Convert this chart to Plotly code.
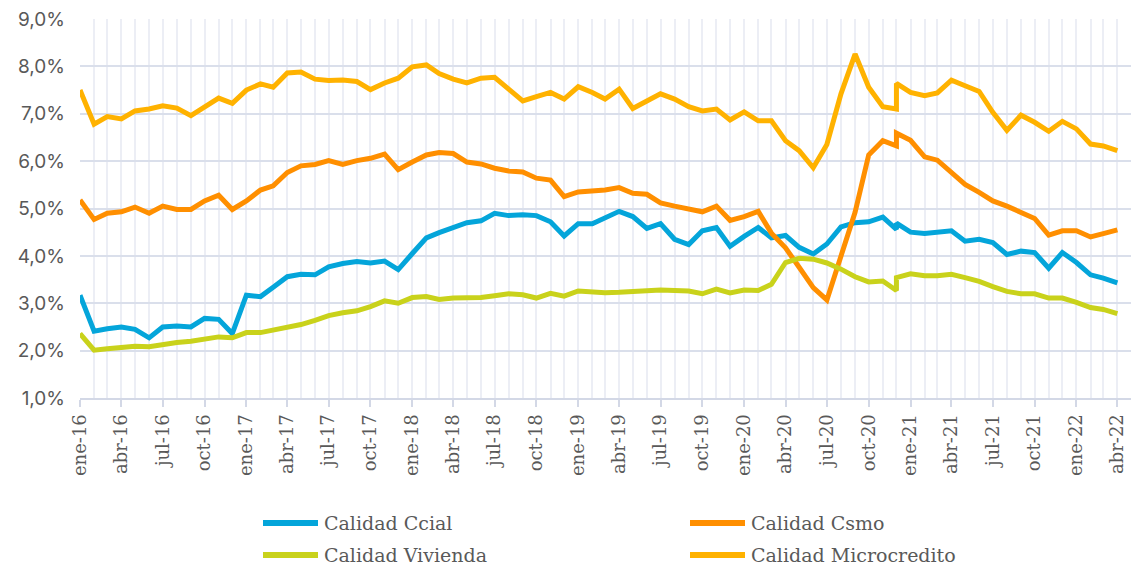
import pandas as pd
import plotly.graph_objects as go

# Monthly dates ene-16 .. abr-22; dic-20 is reported twice (series rebase)
months = list(pd.date_range("2016-01-01", "2022-04-01", freq="MS").strftime("%Y-%m-%d"))
months.insert(months.index("2020-12-01") + 1, "2020-12-01")

ccial = [3.17, 2.41, 2.46, 2.50, 2.45, 2.27, 2.50, 2.52, 2.50, 2.68, 2.66, 2.36,
         3.17, 3.14, 3.34, 3.56, 3.61, 3.60, 3.77, 3.84, 3.88, 3.85, 3.89, 3.71,
         4.05, 4.38, 4.49, 4.60, 4.70, 4.74, 4.90, 4.85, 4.87, 4.85, 4.72, 4.42,
         4.68, 4.68, 4.80, 4.94, 4.83, 4.58, 4.68, 4.35, 4.24, 4.53, 4.60, 4.20,
         4.41, 4.60, 4.38, 4.43, 4.18, 4.04, 4.25, 4.61, 4.70, 4.72, 4.82, 4.56, 4.69,
         4.50, 4.47, 4.50, 4.53, 4.31, 4.35, 4.28, 4.03, 4.10, 4.07, 3.74, 4.07,
         3.86, 3.60, 3.53, 3.43]

csmo = [5.18, 4.77, 4.90, 4.93, 5.03, 4.90, 5.05, 4.98, 4.98, 5.16, 5.28, 4.98,
        5.16, 5.39, 5.48, 5.76, 5.90, 5.93, 6.01, 5.93, 6.01, 6.06, 6.15, 5.82,
        5.98, 6.13, 6.18, 6.16, 5.98, 5.94, 5.85, 5.79, 5.77, 5.64, 5.60, 5.25,
        5.35, 5.37, 5.39, 5.44, 5.32, 5.30, 5.12, 5.05, 5.00, 4.93, 5.05, 4.75,
        4.83, 4.94, 4.48, 4.17, 3.76, 3.33, 3.07, 4.00, 4.92, 6.13, 6.43, 6.32, 6.59,
        6.44, 6.09, 6.02, 5.76, 5.51, 5.34, 5.16, 5.05, 4.91, 4.79, 4.44, 4.53,
        4.53, 4.40, 4.47, 4.55]

vivienda = [2.36, 2.01, 2.04, 2.06, 2.09, 2.08, 2.13, 2.17, 2.20, 2.24, 2.29, 2.27,
            2.38, 2.38, 2.43, 2.50, 2.55, 2.64, 2.74, 2.80, 2.84, 2.93, 3.05, 3.00,
            3.12, 3.14, 3.08, 3.11, 3.11, 3.12, 3.16, 3.20, 3.18, 3.11, 3.21, 3.15,
            3.26, 3.23, 3.22, 3.23, 3.25, 3.27, 3.28, 3.27, 3.26, 3.20, 3.30, 3.22,
            3.28, 3.27, 3.40, 3.86, 3.95, 3.93, 3.85, 3.72, 3.56, 3.45, 3.47, 3.27, 3.54,
            3.62, 3.58, 3.58, 3.61, 3.54, 3.46, 3.35, 3.25, 3.20, 3.20, 3.11, 3.11,
            3.02, 2.91, 2.87, 2.78]

micro = [7.50, 6.78, 6.94, 6.89, 7.06, 7.10, 7.17, 7.12, 6.96, 7.15, 7.33, 7.22,
         7.50, 7.63, 7.56, 7.86, 7.88, 7.73, 7.70, 7.71, 7.68, 7.51, 7.65, 7.75,
         7.99, 8.03, 7.85, 7.73, 7.65, 7.75, 7.77, 7.52, 7.27, 7.36, 7.45, 7.31,
         7.57, 7.45, 7.31, 7.52, 7.11, 7.27, 7.42, 7.31, 7.15, 7.06, 7.10, 6.87,
         7.04, 6.85, 6.85, 6.43, 6.22, 5.86, 6.35, 7.42, 8.26, 7.56, 7.15, 7.10, 7.64,
         7.45, 7.38, 7.44, 7.71, 7.59, 7.47, 7.03, 6.65, 6.97, 6.82, 6.63, 6.84,
         6.68, 6.36, 6.32, 6.22]

tick_dates = list(pd.date_range("2016-01-01", "2022-04-01", freq="QS").strftime("%Y-%m-%d"))
tick_labels = ["ene-16", "abr-16", "jul-16", "oct-16",
               "ene-17", "abr-17", "jul-17", "oct-17",
               "ene-18", "abr-18", "jul-18", "oct-18",
               "ene-19", "abr-19", "jul-19", "oct-19",
               "ene-20", "abr-20", "jul-20", "oct-20",
               "ene-21", "abr-21", "jul-21", "oct-21",
               "ene-22", "abr-22"]

series = [
    ("Calidad Ccial", ccial, "#04A5DA"),
    ("Calidad Csmo", csmo, "#FF8F00"),
    ("Calidad Vivienda", vivienda, "#C9D21B"),
    ("Calidad Microcredito", micro, "#FFB200"),
]

W, H = 1132, 567
L, R, T, B = 80, 1, 19, 169
PW, PH = W - L - R, H - T - B

def px_x(px):
    return (px - L) / PW

def px_y(py):
    return (H - B - py) / PH

TEXT = "#595959"
GRID_H = "#DADFEB"
GRID_V = "#ECEEF5"
AXIS = "#D3D8E6"

fig = go.Figure()
for name, vals, color in series:
    fig.add_trace(go.Scatter(
        x=months, y=vals, name=name, mode="lines",
        line=dict(color=color, width=5), showlegend=False,
    ))

# Two-column legend drawn below the axis
legend_slots = [(263, 523), (690, 523), (263, 555), (690, 555)]
for (name, _, color), (lx, ly) in zip(series, legend_slots):
    fig.add_shape(type="line", xref="paper", yref="paper",
                  x0=px_x(lx), x1=px_x(lx + 55), y0=px_y(ly), y1=px_y(ly),
                  line=dict(color=color, width=6))
    fig.add_annotation(xref="paper", yref="paper", x=px_x(lx + 59), y=px_y(ly),
                       xanchor="left", yanchor="middle", showarrow=False, text=name,
                       font=dict(family="DejaVu Serif", size=19, color=TEXT))

fig.update_layout(
    width=W, height=H,
    margin=dict(l=L, r=R, t=T, b=B),
    paper_bgcolor="white", plot_bgcolor="white",
    separators=",.",
    showlegend=False,
)
fig.update_xaxes(
    type="date", range=["2016-01-01", "2022-05-01"],
    tickmode="array", tickvals=tick_dates, ticktext=tick_labels, tickangle=-90,
    tickfont=dict(family="DejaVu Serif", size=18, color=TEXT),
    ticks="outside", ticklen=7, tickwidth=2, tickcolor=AXIS,
    showline=True, linecolor=AXIS, linewidth=2,
    showgrid=True, gridcolor=GRID_V, gridwidth=2,
    minor=dict(dtick="M1", tick0="2016-01-01", showgrid=True,
               gridcolor=GRID_V, gridwidth=2, ticks=""),
    zeroline=False,
)
fig.update_yaxes(
    range=[1, 9], tick0=1, dtick=1, tickformat=".1f", ticksuffix="%",
    tickfont=dict(family="Inter", size=19, color=TEXT),
    ticks="", ticklabelstandoff=14,
    showgrid=True, gridcolor=GRID_H, gridwidth=2,
    showline=False, zeroline=False,
)

fig.write_html("out.html")
